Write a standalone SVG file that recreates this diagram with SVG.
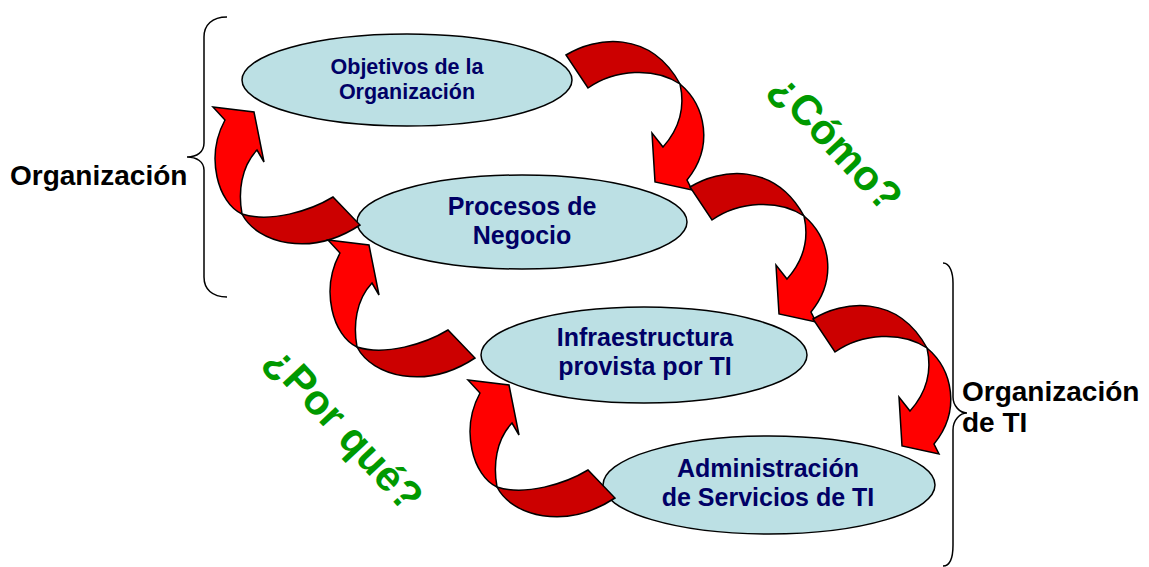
<svg xmlns="http://www.w3.org/2000/svg" xmlns:xlink="http://www.w3.org/1999/xlink" width="1149" height="567" viewBox="0 0 1149 567">
  <style>
    .node ellipse { fill: #BCE0E4; stroke: #000; stroke-width: 1.5; }
    .node text { font-family: "Liberation Sans", Arial, sans-serif; font-weight: bold; fill: #000066; text-anchor: middle; }
    .lbl { font-family: "Liberation Sans", Arial, sans-serif; font-weight: bold; fill: #000; font-size: 28px; }
    .q { font-family: "Liberation Sans", Arial, sans-serif; font-weight: bold; fill: #009900; font-size: 42px; text-anchor: middle; }
    .brace { fill: none; stroke: #000; stroke-width: 1.5; }
    .dark { fill: #CC0000; stroke: #000; stroke-width: 1.5; stroke-linejoin: miter; }
    .bright { fill: #FF0000; stroke: #000; stroke-width: 1.5; stroke-linejoin: miter; }
  </style>
  <defs>
    <g id="arrowR">
      <path class="dark" d="M566,55 C595,37 650,29 680,84 C655,67 615,69 588,88 Z"/>
      <path class="bright" d="M680,84 C706,106 714,147 687,180 L692,190 L655,182 L652,133 L663,147 C680,128 685,106 680,84 Z"/>
    </g>
    <g id="arrowL">
      <path class="bright" d="M357,347 C333,336 320,290 340,253 L328,240 L369,245 L379,295 L372,283 C356,300 353,325 357,347 Z"/>
      <path class="dark" d="M357,347 C372,376 425,391 475,358 L448,330 C425,344 385,356 357,347 Z"/>
    </g>
  </defs>

  <g id="braces">
    <path class="brace" d="M227,17 C212,17 204,25 204,37 L204,143 C204,152 197,157 187,157 C197,157 204,162 204,170 L204,277 C204,289 212,297 227,297"/>
    <path class="brace" d="M943,263 C950,263 953,273 953,283 L953,397 C953,406 960,413 967,413 C960,413 953,420 953,430 L953,545 C953,557 950,566 943,566"/>
  </g>

  <g id="n1" class="node">
    <ellipse cx="407" cy="80" rx="165" ry="46"/>
    <text x="407" y="74" font-size="21.5">Objetivos de la</text>
    <text x="407" y="99" font-size="21.5">Organización</text>
  </g>
  <g id="n2" class="node">
    <ellipse cx="522" cy="222" rx="165" ry="47"/>
    <text x="522" y="215" font-size="25">Procesos de</text>
    <text x="522" y="244" font-size="25">Negocio</text>
  </g>
  <g id="n3" class="node">
    <ellipse cx="644" cy="355" rx="163" ry="48"/>
    <text x="645" y="346" font-size="25">Infraestructura</text>
    <text x="645" y="375" font-size="25">provista por TI</text>
  </g>
  <g id="n4" class="node">
    <ellipse cx="769" cy="485" rx="166" ry="49"/>
    <text x="768" y="477" font-size="25">Administración</text>
    <text x="768" y="506" font-size="25">de Servicios de TI</text>
  </g>

  <g id="connectors">
    <use xlink:href="#arrowR"/>
    <use xlink:href="#arrowR" transform="translate(124,132)"/>
    <use xlink:href="#arrowR" transform="translate(247,264)"/>
    <use xlink:href="#arrowL" transform="translate(-115,-133)"/>
    <use xlink:href="#arrowL"/>
    <use xlink:href="#arrowL" transform="translate(140,140)"/>
  </g>

  <g id="labels">
    <text class="lbl" x="10" y="185">Organización</text>
    <text class="lbl" x="962" y="401">Organización</text>
    <text class="lbl" x="962" y="432">de TI</text>
    <text class="q" transform="translate(826,152) rotate(47)">¿Cómo?</text>
    <text class="q" transform="translate(334,438) rotate(47)">¿Por qué?</text>
  </g>
</svg>
